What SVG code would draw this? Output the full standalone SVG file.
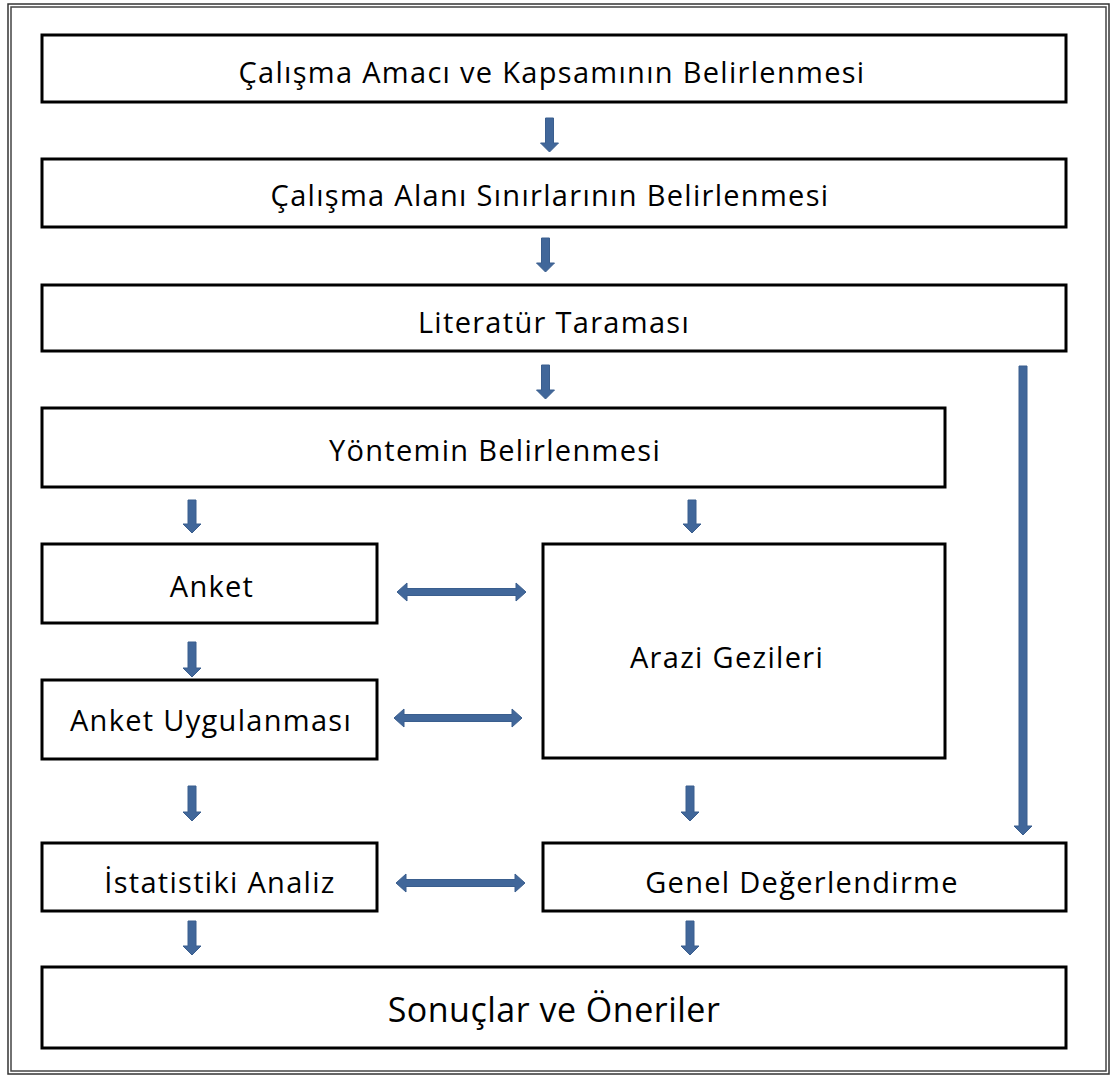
<svg xmlns="http://www.w3.org/2000/svg" width="1113" height="1077" viewBox="0 0 1113 1077">
<style>
.box{fill:#fff;stroke:#000;stroke-width:3}
.t{font-family:"Open Sans","DejaVu Sans",sans-serif;font-size:29px;letter-spacing:1.3px;fill:#000;text-anchor:middle;dominant-baseline:central}
.big{font-size:34px;letter-spacing:0.5px}
.arr{fill:#41679a;stroke:#3a5e8e;stroke-width:1}
</style>
<rect x="0" y="0" width="1113" height="1077" fill="#fff"/>
<rect x="8" y="4" width="1101" height="1070" fill="none" stroke="#333" stroke-width="1.5"/>
<rect x="11" y="7" width="1095" height="1064" fill="none" stroke="#444" stroke-width="1.5"/>

<g id="n1"><rect class="box" x="42" y="35" width="1024" height="67"/><text class="t" x="552" y="71">Çalışma Amacı ve Kapsamının Belirlenmesi</text></g>
<g id="n2"><rect class="box" x="42" y="159" width="1024" height="68"/><text class="t" x="550" y="194">Çalışma Alanı Sınırlarının Belirlenmesi</text></g>
<g id="n3"><rect class="box" x="42" y="285" width="1024" height="66"/><text class="t" x="554" y="321">Literatür Taraması</text></g>
<g id="n4"><rect class="box" x="42" y="408" width="903" height="79"/><text class="t" x="495" y="449">Yöntemin Belirlenmesi</text></g>
<g id="n5"><rect class="box" x="42" y="544" width="335" height="79"/><text class="t" x="212" y="585">Anket</text></g>
<g id="n6"><rect class="box" x="543" y="544" width="402" height="214"/><text class="t" x="727" y="656">Arazi Gezileri</text></g>
<g id="n7"><rect class="box" x="42" y="680" width="335" height="79"/><text class="t" x="211" y="719">Anket Uygulanması</text></g>
<g id="n8"><rect class="box" x="42" y="843" width="335" height="68"/><text class="t" x="220" y="881">İstatistiki Analiz</text></g>
<g id="n9"><rect class="box" x="543" y="843" width="523" height="68"/><text class="t" x="802" y="881">Genel Değerlendirme</text></g>
<g id="n10"><rect class="box" x="42" y="967" width="1024" height="81"/><text class="t big" x="554" y="1009">Sonuçlar ve Öneriler</text></g>

<g id="connectors" class="arr">
<path d="M545.5,118 H553.5 V143 H558.5 L549.5,152 L540.5,143 H545.5 Z"/>
<path d="M541.5,238 H549.5 V263 H554.5 L545.5,272 L536.5,263 H541.5 Z"/>
<path d="M541.5,365 H549.5 V390 H554.5 L545.5,399 L536.5,390 H541.5 Z"/>
<path d="M1019,366 H1027 V826 H1032 L1023,835 L1014,826 H1019 Z"/>
<path d="M188,500 H196 V524 H201 L192,533 L183,524 H188 Z"/>
<path d="M688,500 H696 V524 H701 L692,533 L683,524 H688 Z"/>
<path d="M188,642 H196 V668 H201 L192,677 L183,668 H188 Z"/>
<path d="M188,786 H196 V812 H201 L192,821 L183,812 H188 Z"/>
<path d="M686,786 H694 V812 H699 L690,821 L681,812 H686 Z"/>
<path d="M188,921 H196 V946 H201 L192,955 L183,946 H188 Z"/>
<path d="M686,921 H694 V946 H699 L690,955 L681,946 H686 Z"/>
<path d="M397,592 L407,583 V588.5 H516 V583 L526,592 L516,601 V595.5 H407 V601 Z"/>
<path d="M394,718 L404,709 V714.5 H512 V709 L522,718 L512,727 V721.5 H404 V727 Z"/>
<path d="M396,883 L406,874 V879.5 H515 V874 L525,883 L515,892 V886.5 H406 V892 Z"/>
</g>
</svg>
